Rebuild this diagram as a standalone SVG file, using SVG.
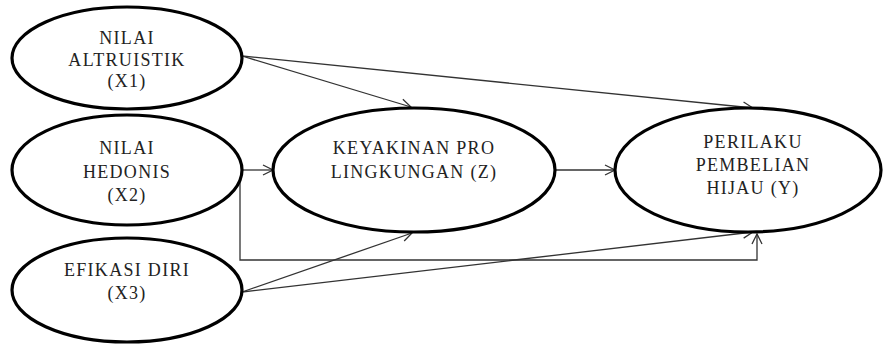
<svg xmlns="http://www.w3.org/2000/svg" width="886" height="344" viewBox="0 0 886 344">
<defs>
<style>
.node ellipse{fill:#fff;stroke:#000;stroke-width:3.2}
.node text{font-size:18px;letter-spacing:1.3px;fill:#222;text-anchor:middle}
.conn path{fill:none;stroke:#333;stroke-width:1.3;marker-end:url(#arr)}
</style>
<marker id="arr" markerUnits="userSpaceOnUse" markerWidth="14" markerHeight="14" refX="11" refY="6" orient="auto">
<path d="M1,1 L11,6 L1,11" fill="none" stroke="#333" stroke-width="1.3"/>
</marker>
</defs>
<rect width="886" height="344" fill="#fff"/>
<g id="connectors" class="conn">
<path d="M242,56 L411,107"/>
<path d="M242,56 L753,108"/>
<path d="M242,170 L273,170"/>
<path d="M240,170 L240,260 L757,260 L757,234"/>
<path d="M555,170 L615,170"/>
<path d="M242,292 L412,233"/>
<path d="M242,292 L753,232"/>
</g>
<g font-family="Liberation Serif, DejaVu Serif, serif">
<g id="x1" class="node">
<ellipse cx="127" cy="58" rx="115" ry="51"/>
<text x="127" y="44">NILAI</text>
<text x="127" y="66">ALTRUISTIK</text>
<text x="127" y="87">(X1)</text>
</g>
<g id="x2" class="node">
<ellipse cx="127" cy="170" rx="115" ry="55"/>
<text x="127" y="154">NILAI</text>
<text x="127" y="178">HEDONIS</text>
<text x="127" y="201">(X2)</text>
</g>
<g id="x3" class="node">
<ellipse cx="127" cy="290" rx="115" ry="52"/>
<text x="127" y="276">EFIKASI DIRI</text>
<text x="127" y="299">(X3)</text>
</g>
<g id="z" class="node">
<ellipse cx="414" cy="170" rx="141" ry="62"/>
<text x="414" y="154">KEYAKINAN PRO</text>
<text x="414" y="178">LINGKUNGAN (Z)</text>
</g>
<g id="y" class="node">
<ellipse cx="748" cy="170" rx="133" ry="62"/>
<text x="753" y="148">PERILAKU</text>
<text x="753" y="171">PEMBELIAN</text>
<text x="753" y="194">HIJAU (Y)</text>
</g>
</g>
</svg>
